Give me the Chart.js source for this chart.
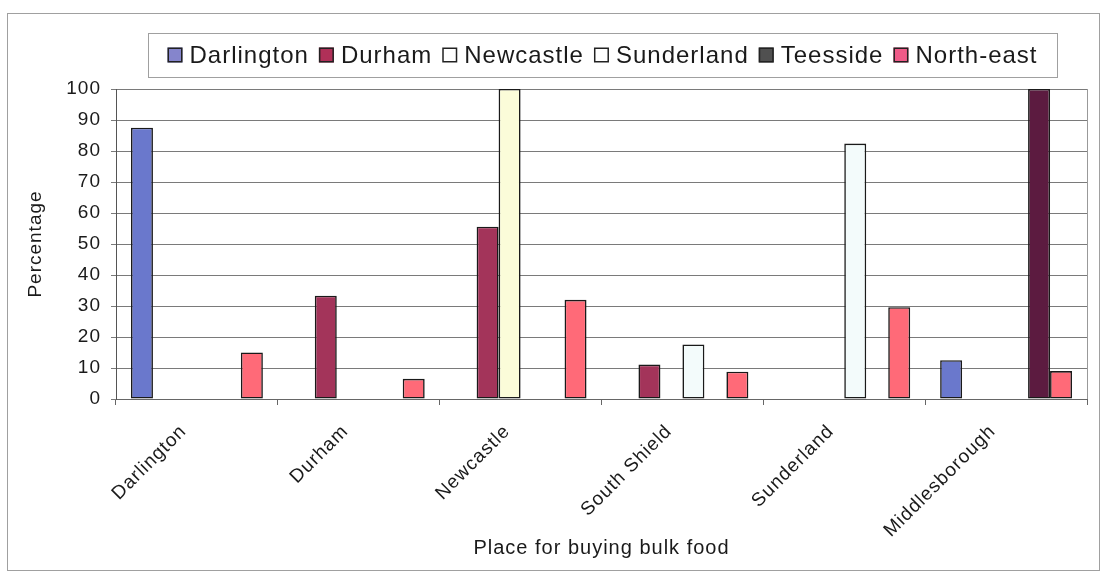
<!DOCTYPE html>
<html>
<head>
<meta charset="utf-8">
<script src="https://cdn.jsdelivr.net/npm/chart.js@4.4.1/dist/chart.umd.min.js"></script>
<style>
  html, body { margin: 0; padding: 0; background: #fff; }
  #wrap { width: 1106px; height: 574px; }
</style>
</head>
<body>
<div id="wrap"><canvas id="mainChart" width="1106" height="574"></canvas></div>
<script>
/* ── Data ───────────────────────────────────────────────────────────────────── */
const PLACES = ["Darlington", "Durham", "Newcastle", "South Shield", "Sunderland", "Middlesborough"];

const DARLINGTON = [87.5, 0, 0, 0, 0, 12.5];
const DURHAM     = [0, 33.3, 55.6, 11.1, 0, 0];
const NEWCASTLE  = [0, 0, 100, 0, 0, 0];
const SUNDERLAND = [0, 0, 0, 17.6, 82.4, 0];
const TEESSIDE   = [0, 0, 0, 0, 0, 100];
const NORTH_EAST = [15, 6.5, 32, 8.8, 29.6, 9];

const Y_TICKS = [0, 10, 20, 30, 40, 50, 60, 70, 80, 90, 100];

/* ── Styling ────────────────────────────────────────────────────────────────── */
const SERIES = [
  { label: "Darlington", data: DARLINGTON, fill: "#6a78cc", key: "#8585cc" },
  { label: "Durham",     data: DURHAM,     fill: "#a3345a", key: "#b03058" },
  { label: "Newcastle",  data: NEWCASTLE,  fill: "#fbfcd9", key: "#ffffff" },
  { label: "Sunderland", data: SUNDERLAND, fill: "#f3fbfb", key: "#ffffff" },
  { label: "Teesside",   data: TEESSIDE,   fill: "#5c1b40", key: "#505050" },
  { label: "North-east", data: NORTH_EAST, fill: "#ff6a78", key: "#f05a88" },
];

const FONT = "'Liberation Sans', Arial, sans-serif";
const SPACING = "1px";

/* ── Plugins ────────────────────────────────────────────────────────────────── */
// outer frame + boxed legend in the old spreadsheet style
const framePlugin = {
  id: "frame",
  beforeDraw(chart) {
    const c = chart.ctx;
    c.fillStyle = "#fff";
    c.fillRect(0, 0, chart.width, chart.height);
    c.strokeStyle = "#a0a0a0";
    c.lineWidth = 1;
    c.strokeRect(7.5, 13.5, 1092, 557);
    // the scanned text is a little wider than Arial, spread it a bit
    c.letterSpacing = SPACING;
  },
  afterDraw(chart) {
    const c = chart.ctx;
    c.save();
    c.letterSpacing = SPACING;
    c.font = "24px " + FONT;
    const box = 15, gapText = 7, gapItem = 10;
    const items = chart.data.datasets.map((d, i) => ({ d, i, w: box + gapText + c.measureText(d.label).width }));
    const total = items.reduce((s, it) => s + it.w, 0) + gapItem * (items.length - 1);
    const lx = 148, lw = 909, ly = 33, lh = 44;
    c.strokeStyle = "#a0a0a0";
    c.lineWidth = 1;
    c.strokeRect(lx + 0.5, ly + 0.5, lw, lh);
    let x = lx + (lw - total) / 2;
    const cy = ly + lh / 2;
    items.forEach((it) => {
      c.fillStyle = SERIES[it.i].key;
      c.fillRect(x, cy - box / 2, box, box);
      c.strokeStyle = "#222";
      c.lineWidth = 1.5;
      c.strokeRect(x + 0.75, cy - box / 2 + 0.75, box - 1.5, box - 1.5);
      c.fillStyle = "#1a1a1a";
      c.textBaseline = "middle";
      c.fillText(it.d.label, x + box + gapText, cy + 1);
      x += it.w + gapItem;
    });
    c.restore();
  },
};

// thin right edge of the plot area
const edgePlugin = {
  id: "rightEdge",
  afterDatasetsDraw(chart) {
    const { ctx, chartArea } = chart;
    ctx.save();
    ctx.strokeStyle = "#999";
    ctx.lineWidth = 1;
    ctx.beginPath();
    ctx.moveTo(Math.round(chartArea.right) + 0.5, chartArea.top);
    ctx.lineTo(Math.round(chartArea.right) + 0.5, chartArea.bottom);
    ctx.stroke();
    ctx.restore();
  },
};

/* ── Chart ──────────────────────────────────────────────────────────────────── */
new Chart(document.getElementById("mainChart"), {
  type: "bar",
  data: {
    labels: PLACES,
    datasets: SERIES.map((s) => ({
      label: s.label,
      data: s.data,
      backgroundColor: s.fill,
      borderColor: "#1a1a1a",
      borderWidth: 1.6,
      borderSkipped: false,
      categoryPercentage: 0.815,
      barPercentage: 1.0,
    })),
  },
  options: {
    responsive: false,
    animation: false,
    layout: { padding: { top: 89, right: 19, bottom: 10, left: 0 } },
    plugins: {
      legend: { display: false },
      tooltip: { enabled: false },
    },
    scales: {
      x: {
        offset: true,
        afterFit: (s) => { s.height = 165; },
        grid: { display: true, drawOnChartArea: false, color: "#666", tickLength: 6 },
        border: { color: "#666" },
        ticks: {
          minRotation: 45, maxRotation: 45,
          color: "#1a1a1a",
          padding: 2,
          font: { family: FONT, size: 19 },
          callback: (v, i) => PLACES[i] + "   ",
        },
        title: {
          display: true,
          text: "Place for buying bulk food",
          color: "#1a1a1a",
          font: { family: FONT, size: 20 },
          padding: { top: 0, bottom: 4 },
        },
      },
      y: {
        min: 0, max: 100,
        afterFit: (s) => { s.width = 116; },
        afterBuildTicks: (s) => { s.ticks = Y_TICKS.map((v) => ({ value: v })); },
        grid: { color: "#7a7a7a", tickLength: 5 },
        border: { color: "#555" },
        ticks: {
          color: "#1a1a1a",
          padding: 10,
          font: { family: FONT, size: 19 },
        },
        title: {
          display: true,
          text: "Percentage",
          color: "#1a1a1a",
          font: { family: FONT, size: 19 },
          padding: { top: 24, bottom: 0 },
        },
      },
    },
  },
  plugins: [framePlugin, edgePlugin],
});
</script>
</body>
</html>
